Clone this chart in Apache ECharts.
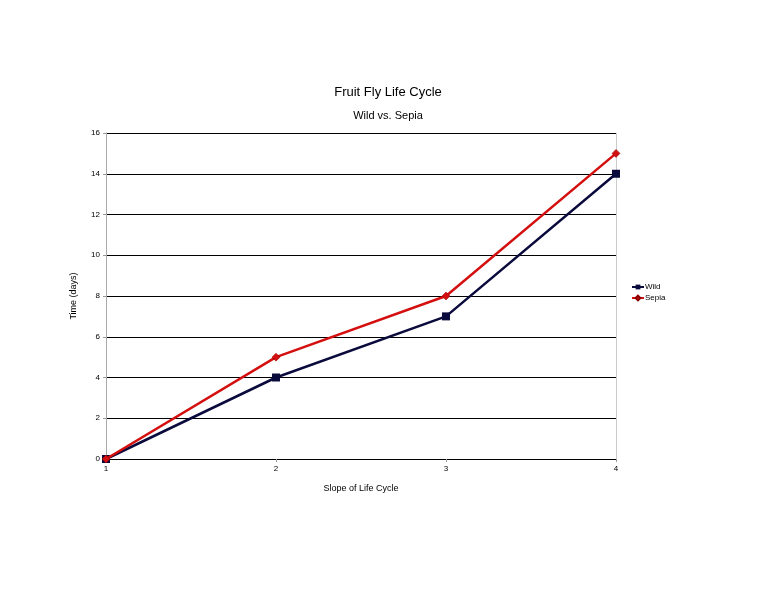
<!DOCTYPE html>
<html><head><meta charset="utf-8">
<script src="https://cdn.jsdelivr.net/npm/echarts@6/dist/echarts.min.js"></script>
<style>html,body{margin:0;padding:0;background:#fff}#c{width:776px;height:599px}</style>
</head><body><div id="c"></div>
<script>
const categories = ['1', '2', '3', '4'];
const wild = [0, 4, 7, 14];
const sepia = [0, 5, 8, 15];
const yTicks = [0, 2, 4, 6, 8, 10, 12, 14, 16];

const chart = echarts.init(document.getElementById('c'), null, {renderer: 'canvas'});
const F = '"Liberation Sans", Arial, sans-serif';
chart.setOption({
  animation: false,
  backgroundColor: '#fff',
  title: {
    text: 'Fruit Fly Life Cycle', subtext: 'Wild vs. Sepia', left: 'center', top: 81, itemGap: 11,
    textStyle: {fontFamily: F, fontSize: 13, fontWeight: 'normal', color: '#000'},
    subtextStyle: {fontFamily: F, fontSize: 11, color: '#000'}
  },
  legend: {
    orient: 'vertical', left: 626, top: 278, itemWidth: 12, itemHeight: 6, itemGap: 3,
    textStyle: {fontFamily: F, fontSize: 8, color: '#000', padding: [0, 0, 0, -4]},
    data: ['Wild', 'Sepia']
  },
  grid: {left: 106, right: 160, top: 133, bottom: 140},
  xAxis: {
    type: 'category', data: categories, boundaryGap: false,
    name: 'Slope of Life Cycle', nameLocation: 'middle', nameGap: 25,
    nameTextStyle: {fontFamily: F, fontSize: 9, color: '#000'},
    axisLine: {lineStyle: {color: '#000', width: 1}},
    axisTick: {show: true, length: 3, lineStyle: {color: '#999'}},
    axisLabel: {fontFamily: F, fontSize: 8, color: '#000', margin: 6},
    splitLine: {show: true, interval: function (i) { return i === categories.length - 1; }, lineStyle: {color: '#ccc'}}
  },
  yAxis: {
    type: 'value', min: 0, max: 16, interval: 2,
    name: 'Time (days)', nameLocation: 'middle', nameGap: 28,
    nameTextStyle: {fontFamily: F, fontSize: 9, color: '#000'},
    axisLine: {show: true, lineStyle: {color: '#aaa'}},
    axisTick: {show: true, length: 3, lineStyle: {color: '#999'}},
    axisLabel: {fontFamily: F, fontSize: 8, color: '#000', margin: 6,
      formatter: function (v) { return yTicks.indexOf(v) >= 0 ? String(v) : ''; }},
    splitLine: {show: true, lineStyle: {color: '#000', width: 1}}
  },
  series: [
    {name: 'Wild', type: 'line', data: wild, symbol: 'rect', symbolSize: 8,
     itemStyle: {color: '#0a0a3c'}, lineStyle: {color: '#0a0a3c', width: 2.5}, z: 3},
    {name: 'Sepia', type: 'line', data: sepia, symbol: 'diamond', symbolSize: 8,
     itemStyle: {color: '#d40f0f', borderColor: '#8a0000', borderWidth: 0.5}, lineStyle: {color: '#d40f0f', width: 2.5}, z: 4}
  ]
});
</script></body></html>
